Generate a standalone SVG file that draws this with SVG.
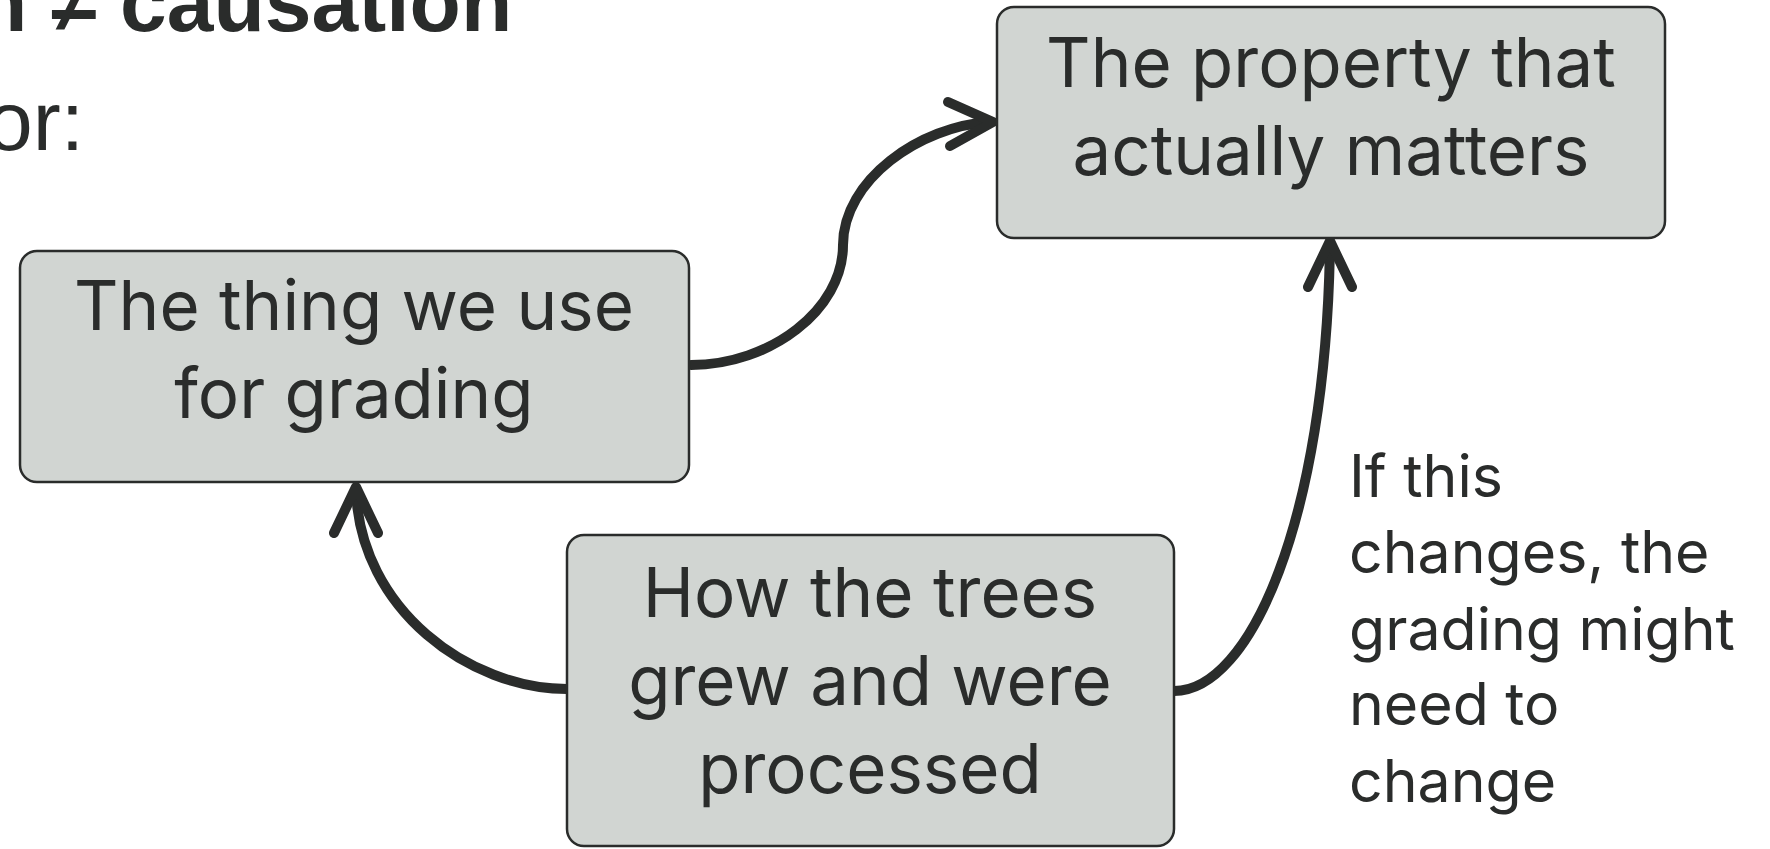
<svg xmlns="http://www.w3.org/2000/svg" width="1770" height="849" viewBox="0 0 1770 849">
<style>
.box{fill:#d1d5d2;stroke:#2a2c2b;stroke-width:2.5}
.lbl{font-family:Inter,"Noto Sans",sans-serif;font-size:69px;fill:#2a2c2b;text-anchor:middle}
.note{font-family:Inter,"Noto Sans",sans-serif;font-size:59px;fill:#2a2c2b}
.title{font-family:"Liberation Sans",Arial,sans-serif;font-size:84px;fill:#2a2c2b}
.edge{fill:none;stroke:#2a2c2b;stroke-width:10;stroke-linecap:round;stroke-linejoin:round}
</style>
<rect width="1770" height="849" fill="#ffffff"/>
<text class="title" x="-24" y="31" font-weight="bold">n ≠ causation</text>
<text class="title" x="-14" y="150">or:</text>
<g id="connectors">
<path class="edge" d="M 691 365 C 770 365 843 310 843 245 C 843 180 920 126 990 122"/>
<path class="edge" d="M 948 102 L 993 122 L 950 146"/>
<path class="edge" d="M 567 689 C 470 689 360 610 356 490"/>
<path class="edge" d="M 334 533 L 356 487 L 378 533"/>
<path class="edge" d="M 1174 691 C 1250 691 1326 520 1330 245"/>
<path class="edge" d="M 1308 287 L 1330 241 L 1352 287"/>
</g>
<g id="node-property">
<rect class="box" x="997" y="7" width="668" height="231" rx="17"/>
<text class="lbl" x="1331" y="87">The property that</text>
<text class="lbl" x="1331" y="175">actually matters</text>
</g>
<g id="node-grading">
<rect class="box" x="20" y="251" width="669" height="231" rx="17"/>
<text class="lbl" x="354" y="330">The thing we use</text>
<text class="lbl" x="354" y="418">for grading</text>
</g>
<g id="node-trees">
<rect class="box" x="567" y="535" width="607" height="311" rx="17"/>
<text class="lbl" x="870" y="617">How the trees</text>
<text class="lbl" x="870" y="705">grew and were</text>
<text class="lbl" x="870" y="793">processed</text>
</g>
<g id="note">
<text class="note" x="1349" y="497">If this</text>
<text class="note" x="1349" y="573">changes, the</text>
<text class="note" x="1349" y="650">grading might</text>
<text class="note" x="1349" y="725">need to</text>
<text class="note" x="1349" y="802">change</text>
</g>
</svg>
